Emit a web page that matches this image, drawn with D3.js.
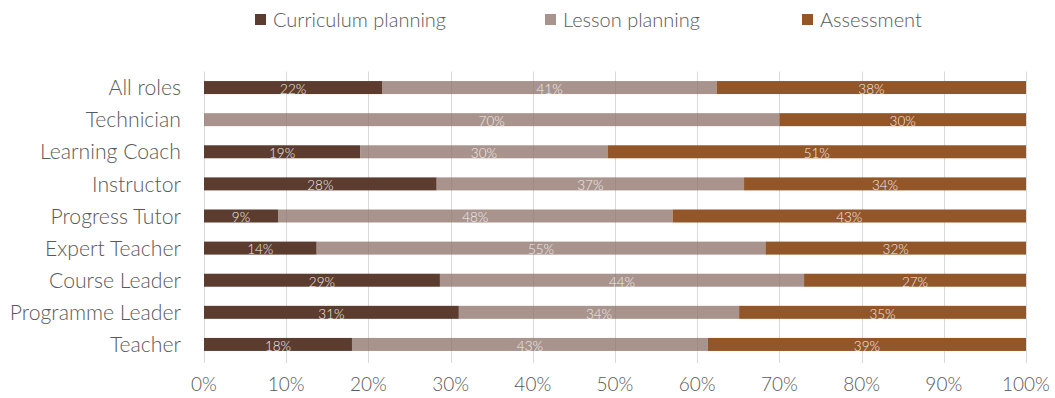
<!DOCTYPE html>
<html>
<head>
<meta charset="utf-8">
<script src="https://cdn.jsdelivr.net/npm/d3@7"></script>
<style>
  html, body { margin: 0; padding: 0; background: #fff; }
  svg { display: block; font-family: Lato, "Open Sans", sans-serif; }
</style>
</head>
<body>
<svg id="chart" width="1055" height="398"></svg>
<script>
// Roles, top to bottom
const roles = ["All roles", "Technician", "Learning Coach", "Instructor", "Progress Tutor",
               "Expert Teacher", "Course Leader", "Programme Leader", "Teacher"];

// Share of time (%) per activity for each role
const curriculum = [21.7, 0, 19.0, 28.3, 9.0, 13.7, 28.7, 31.0, 18.0];
const lesson     = [40.7, 70.0, 30.1, 37.4, 48.0, 54.6, 44.3, 34.1, 43.3];
const assessment = [37.6, 30.0, 50.9, 34.3, 43.0, 31.7, 27.0, 34.9, 38.7];

const seriesNames = ["Curriculum planning", "Lesson planning", "Assessment"];
// lesson planning is a translucent fill, so gridlines show faintly through it
const seriesColors = ["#5b3c2f", "#8b7067", "#925628"];
const seriesOpacity = [1, 0.75, 1];
const xTicks = [0, 10, 20, 30, 40, 50, 60, 70, 80, 90, 100];

const svg = d3.select("#chart");
const textGrey = "#595959";

const x = d3.scaleLinear().domain([0, 100]).range([204, 1026]);
const y = d3.scaleBand().domain(roles).range([71.5, 360.5])
  .paddingInner(0.595).paddingOuter(0.2975);

// vertical gridlines
svg.append("g").selectAll("line").data(xTicks).join("line")
  .attr("x1", d => Math.round(x(d)) + 0.5).attr("x2", d => Math.round(x(d)) + 0.5)
  .attr("y1", 71.5).attr("y2", 363)
  .attr("stroke", "#d9d9d9").attr("stroke-width", 1);

// stacked rows
const rows = roles.map((r, i) => ({ role: r, values: [curriculum[i], lesson[i], assessment[i]] }));
const segs = [];
rows.forEach(row => {
  let acc = 0;
  row.values.forEach((v, k) => {
    segs.push({ role: row.role, k, v, x0: acc, x1: acc + v });
    acc += v;
  });
});

const bars = svg.append("g");
bars.selectAll("rect").data(segs.filter(d => d.v > 0)).join("rect")
  .attr("x", d => x(d.x0))
  .attr("width", d => x(d.x1) - x(d.x0))
  .attr("y", d => y(d.role))
  .attr("height", y.bandwidth())
  .attr("fill", d => seriesColors[d.k])
  .attr("fill-opacity", d => seriesOpacity[d.k]);

// value labels inside segments
bars.selectAll("text").data(segs.filter(d => d.v > 0)).join("text")
  .attr("x", d => (x(d.x0) + x(d.x1)) / 2)
  .attr("y", d => y(d.role) + y.bandwidth() / 2 + 1.5)
  .attr("dy", "0.36em")
  .attr("text-anchor", "middle")
  .attr("font-size", 13.5)
  .attr("font-weight", 300)
  .attr("fill", "#f3ece9")
  .text(d => Math.round(d.v) + "%");

// category labels
svg.append("g").selectAll("text").data(roles).join("text")
  .attr("x", 181)
  .attr("y", d => y(d) + y.bandwidth() / 2)
  .attr("dy", "0.36em")
  .attr("text-anchor", "end")
  .attr("font-size", 21.2)
  .attr("font-weight", 300)
  .attr("fill", textGrey)
  .text(d => d);

// x tick labels
svg.append("g").selectAll("text").data(xTicks).join("text")
  .attr("x", d => x(d))
  .attr("y", 391)
  .attr("text-anchor", "middle")
  .attr("font-size", 19)
  .attr("font-weight", 300)
  .attr("fill", textGrey)
  .text(d => d + "%");

// legend
const legendX = [255, 545, 802];
const legend = svg.append("g").selectAll("g").data(seriesNames).join("g")
  .attr("transform", (d, i) => `translate(${legendX[i]},0)`);
legend.append("rect")
  .attr("x", 0).attr("y", 14).attr("width", 11).attr("height", 11)
  .attr("fill", (d, i) => seriesColors[i])
  .attr("fill-opacity", (d, i) => seriesOpacity[i]);
legend.append("text")
  .attr("x", 18).attr("y", 20).attr("dy", "0.36em")
  .attr("font-size", 20)
  .attr("font-weight", 300)
  .attr("fill", textGrey)
  .text(d => d);
</script>
</body>
</html>
